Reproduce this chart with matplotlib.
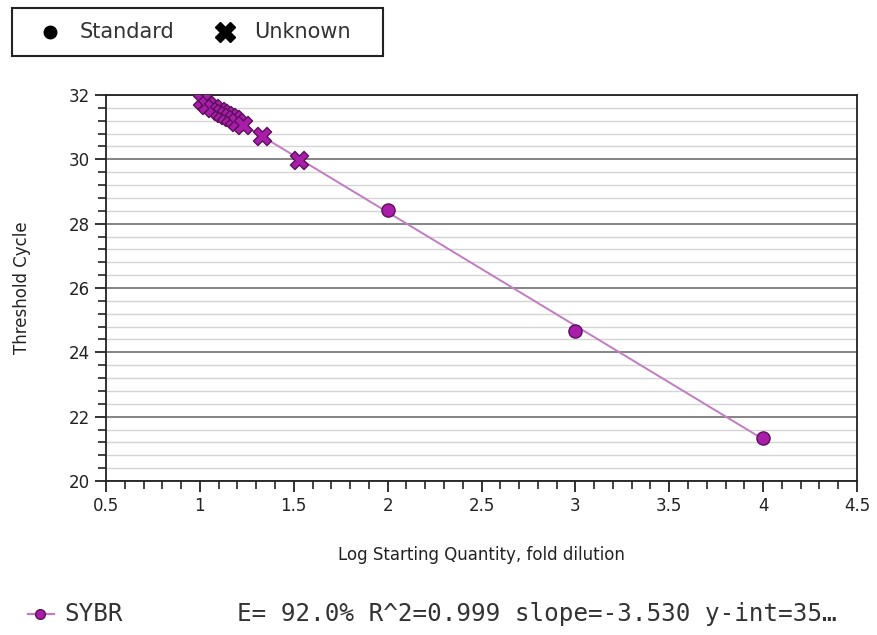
import matplotlib
matplotlib.use("Agg")
import matplotlib.pyplot as plt
from matplotlib.ticker import MultipleLocator
from matplotlib.lines import Line2D
from matplotlib.patches import Rectangle

# Standards (log starting quantity, Ct)
std_x = [2.0, 3.0, 4.0]
std_y = [28.42, 24.66, 21.33]

# Unknowns
unk_x = [1.01, 1.04, 1.07, 1.10, 1.12, 1.14, 1.16, 1.18, 1.20, 1.23, 1.33, 1.53]
unk_y = [31.84, 31.70, 31.60, 31.50, 31.43, 31.37, 31.31, 31.25, 31.17, 31.07, 30.72, 29.98]

# Fit line
fit_x = [1.01, 4.0]
fit_y = [31.85, 21.30]

series_name = "SYBR"
stats_text = "E= 92.0% R^2=0.999 slope=-3.530 y-int=35\u2026"

fill_c = "#a81ea8"
edge_c = "#5c105c"
line_c = "#c27cc2"

fig = plt.figure(figsize=(8.77, 6.35), dpi=100)
ax = fig.add_axes([106/877, 1-481/635, (857-106)/877, (481-95)/635])

ax.set_xlim(0.5, 4.5)
ax.set_ylim(20, 32)
ax.xaxis.set_major_locator(MultipleLocator(0.5))
ax.xaxis.set_minor_locator(MultipleLocator(0.1))
ax.yaxis.set_major_locator(MultipleLocator(2))
ax.yaxis.set_minor_locator(MultipleLocator(0.4))
ax.set_xticks([0.5, 1, 1.5, 2, 2.5, 3, 3.5, 4, 4.5])
ax.set_xticklabels(["0.5", "1", "1.5", "2", "2.5", "3", "3.5", "4", "4.5"])

ax.grid(which="minor", axis="y", color="#d4d4d4", linewidth=1.0)
ax.grid(which="major", axis="y", color="#707070", linewidth=1.2)
ax.set_axisbelow(True)

ax.tick_params(which="major", direction="out", length=8, width=1.3, labelsize=12, colors="#222222")
ax.tick_params(which="minor", direction="out", length=6, width=1.2, colors="#222222")
for s in ax.spines.values():
    s.set_linewidth(1.3)
    s.set_color("#222222")

ax.plot(fit_x, fit_y, color=line_c, linewidth=1.4, zorder=2)
ax.scatter(unk_x, unk_y, marker="X", s=170, facecolor=fill_c, edgecolor=edge_c, linewidth=1.0, zorder=3)
ax.scatter(std_x, std_y, marker="o", s=90, facecolor=fill_c, edgecolor=edge_c, linewidth=1.0, zorder=4)

ax.set_xlabel("Log Starting Quantity, fold dilution", fontsize=12, labelpad=22, color="#222222")
ax.set_ylabel("Threshold Cycle", fontsize=12, labelpad=27, color="#222222")

# Top legend box
fig.patches.append(Rectangle((12/877, 1-56/635), (383-12)/877, 48/635, transform=fig.transFigure,
                             fill=False, edgecolor="#222222", linewidth=1.5))
fig.lines.append(Line2D([50/877], [1-32/635], marker="o", markersize=9, color="black", transform=fig.transFigure))
fig.text(80/877, 1-32/635, "Standard", fontsize=15, va="center", color="#333333")
fig.lines.append(Line2D([225/877], [1-32/635], marker="X", markersize=14, color="black", transform=fig.transFigure))
fig.text(254/877, 1-32/635, "Unknown", fontsize=15, va="center", color="#333333")

# Bottom series legend
fig.lines.append(Line2D([28/877, 54/877], [1-614/635, 1-614/635], color=line_c, linewidth=1.6, transform=fig.transFigure))
fig.lines.append(Line2D([40/877], [1-614/635], marker="o", markersize=7, markerfacecolor=fill_c,
                        markeredgecolor=edge_c, transform=fig.transFigure))
fig.text(64/877, 1-614/635, series_name, fontsize=17.5, family="DejaVu Sans Mono", va="center", color="#333333")
fig.text(237/877, 1-614/635, stats_text, fontsize=17.5, family="DejaVu Sans Mono", va="center", color="#333333")

fig.savefig("out.png", dpi=100, facecolor="white")
